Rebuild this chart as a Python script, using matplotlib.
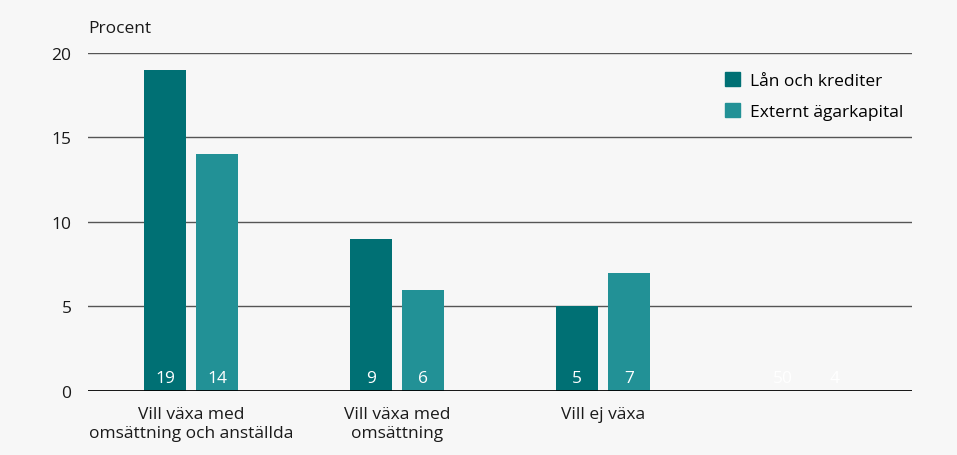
import numpy as np
import matplotlib.pyplot as plt
from matplotlib.patches import Patch

plt.rcParams['font.family'] = ['Open Sans', 'DejaVu Sans']

# data
kategorier = ["Vill växa med\nomsättning och anställda", "Vill växa med\nomsättning", "Vill ej växa", ""]
lan_krediter = [19, 9, 5, 50]
externt_kapital = [14, 6, 7, 4]
synlig = [True, True, True, False]
serier = ["Lån och krediter", "Externt ägarkapital"]
yticks = [0, 5, 10, 15, 20]

bg = "#f7f7f7"
c_mork = "#007074"
c_ljus = "#229196"
fs = 12.5

fig = plt.figure(figsize=(9.57, 4.56), dpi=100, facecolor=bg)
ax = fig.add_axes([0.092, 0.1404, 0.861, 0.7412], facecolor=bg)

x = np.arange(len(kategorier))
w = 0.2
off = 0.126
alpha = [1 if s else 0 for s in synlig]
for i in x:
    ax.bar(i - off, lan_krediter[i], w, color=c_mork, alpha=alpha[i], zorder=3)
    ax.bar(i + off, externt_kapital[i], w, color=c_ljus, alpha=alpha[i], zorder=3)
    ax.text(i - off, 0.75, str(lan_krediter[i]), color="white", ha="center", va="center",
            fontsize=fs, zorder=4)
    ax.text(i + off, 0.75, str(externt_kapital[i]), color="white", ha="center", va="center",
            fontsize=fs, zorder=4)

ax.set_xlim(-0.5, len(kategorier) - 0.5)
ax.set_ylim(0, 20)
ax.set_yticks(yticks)
ax.set_yticklabels([str(t) for t in yticks], fontsize=fs, color="#1a1a1a")
ax.set_xticks(x)
ax.set_xticklabels(kategorier, fontsize=fs, color="#1a1a1a", linespacing=1.25)
ax.tick_params(axis="y", length=0, pad=12)
ax.tick_params(axis="x", length=0, pad=11)

for t in yticks[1:]:
    ax.axhline(t, color="#555555", lw=1.0, zorder=1)
ax.axhline(0, color="black", lw=2.0, zorder=5)

for s in ax.spines.values():
    s.set_visible(False)

ax.text(0.0, 1.075, "Procent", transform=ax.transAxes, fontsize=fs, color="#1a1a1a",
        ha="left", va="center")

handles = [Patch(color=c_mork, label=serier[0]), Patch(color=c_ljus, label=serier[1])]
ax.legend(handles=handles, loc="upper right", bbox_to_anchor=(1.0, 0.97), frameon=False,
          fontsize=fs, handlelength=0.9, handleheight=0.9, handletextpad=0.55,
          labelspacing=0.8, borderaxespad=0.1)

fig.savefig("out.png", dpi=100, facecolor=bg)
